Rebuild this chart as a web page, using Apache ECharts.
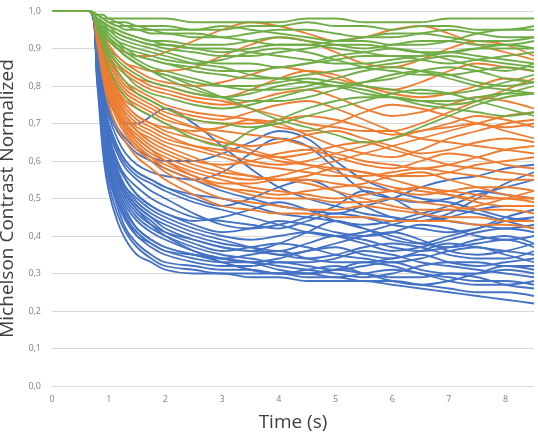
<!DOCTYPE html>
<html>
<head>
<meta charset="utf-8">
<script src="https://cdn.jsdelivr.net/npm/echarts@6/dist/echarts.min.js"></script>
<style>html,body{margin:0;padding:0;background:#fff}#c{width:538px;height:434px}</style>
</head>
<body>
<div id="c"></div>
<script>
// Time samples (s). Every trace sits at 1,0 for t = 0 and 0.65.
const timeStart = [0, 0.65];
const startValues = [1.0, 1.0];
const timeSamples = [0.8, 0.9, 1.0, 1.15, 1.3, 1.5, 1.75, 2, 2.5, 3, 3.5, 4, 4.5, 5, 5.5, 6, 6.5, 7, 7.5, 8, 8.5];
const yTicks = [0, 0.1, 0.2, 0.3, 0.4, 0.5, 0.6, 0.7, 0.8, 0.9, 1.0];
const xTicks = [0, 1, 2, 3, 4, 5, 6, 7, 8];

const blueTraces = [
  [0.80,0.62,0.52,0.44,0.39,0.35,0.33,0.31,0.30,0.30,0.29,0.29,0.28,0.28,0.28,0.27,0.26,0.25,0.24,0.23,0.22],
  [0.81,0.64,0.54,0.46,0.41,0.37,0.34,0.32,0.31,0.30,0.30,0.30,0.29,0.29,0.28,0.28,0.27,0.26,0.25,0.25,0.24],
  [0.82,0.66,0.56,0.48,0.42,0.38,0.35,0.33,0.32,0.31,0.31,0.30,0.30,0.31,0.30,0.29,0.29,0.30,0.29,0.27,0.26],
  [0.83,0.68,0.58,0.50,0.45,0.40,0.37,0.35,0.33,0.32,0.32,0.33,0.32,0.31,0.32,0.33,0.31,0.30,0.30,0.31,0.30],
  [0.82,0.67,0.57,0.49,0.44,0.40,0.38,0.36,0.35,0.34,0.33,0.31,0.30,0.31,0.33,0.32,0.30,0.29,0.28,0.28,0.27],
  [0.84,0.70,0.60,0.52,0.47,0.42,0.39,0.37,0.35,0.34,0.35,0.36,0.34,0.33,0.33,0.34,0.35,0.33,0.32,0.33,0.34],
  [0.85,0.71,0.62,0.54,0.49,0.45,0.42,0.40,0.37,0.35,0.34,0.33,0.33,0.34,0.36,0.35,0.33,0.32,0.31,0.30,0.29],
  [0.84,0.70,0.61,0.55,0.51,0.47,0.44,0.41,0.38,0.36,0.37,0.38,0.37,0.35,0.34,0.33,0.34,0.36,0.37,0.35,0.33],
  [0.85,0.72,0.63,0.56,0.52,0.48,0.45,0.43,0.40,0.38,0.37,0.36,0.38,0.40,0.39,0.37,0.36,0.37,0.39,0.40,0.38],
  [0.86,0.73,0.64,0.57,0.53,0.50,0.47,0.45,0.42,0.40,0.39,0.40,0.41,0.40,0.38,0.36,0.37,0.39,0.41,0.42,0.41],
  [0.86,0.74,0.66,0.59,0.55,0.51,0.48,0.46,0.43,0.41,0.42,0.44,0.43,0.41,0.40,0.41,0.43,0.42,0.40,0.39,0.40],
  [0.87,0.75,0.67,0.60,0.56,0.53,0.50,0.48,0.45,0.44,0.43,0.42,0.44,0.46,0.45,0.43,0.42,0.41,0.42,0.44,0.45],
  [0.87,0.76,0.68,0.62,0.58,0.55,0.52,0.50,0.46,0.43,0.42,0.43,0.45,0.48,0.52,0.50,0.46,0.44,0.43,0.42,0.43],
  [0.88,0.77,0.69,0.63,0.59,0.56,0.54,0.52,0.49,0.47,0.45,0.43,0.41,0.40,0.41,0.43,0.45,0.47,0.46,0.44,0.42],
  [0.88,0.78,0.70,0.64,0.60,0.57,0.55,0.53,0.50,0.48,0.50,0.53,0.55,0.52,0.48,0.45,0.44,0.46,0.50,0.54,0.57],
  [0.89,0.79,0.72,0.66,0.62,0.59,0.57,0.56,0.55,0.57,0.62,0.66,0.64,0.58,0.52,0.50,0.49,0.50,0.52,0.51,0.50],
  [0.89,0.80,0.73,0.68,0.65,0.62,0.60,0.58,0.55,0.52,0.50,0.48,0.47,0.46,0.48,0.50,0.53,0.55,0.56,0.58,0.59],
  [0.90,0.82,0.76,0.72,0.70,0.70,0.72,0.74,0.70,0.64,0.58,0.53,0.50,0.48,0.46,0.45,0.44,0.45,0.47,0.48,0.48],
  [0.86,0.74,0.65,0.58,0.53,0.49,0.46,0.44,0.41,0.39,0.37,0.35,0.36,0.38,0.40,0.41,0.39,0.36,0.35,0.36,0.38],
  [0.83,0.69,0.59,0.51,0.46,0.42,0.39,0.37,0.35,0.33,0.31,0.30,0.31,0.32,0.30,0.28,0.27,0.28,0.30,0.32,0.31],
  [0.84,0.69,0.60,0.53,0.48,0.44,0.41,0.39,0.36,0.34,0.33,0.34,0.36,0.37,0.35,0.34,0.36,0.38,0.37,0.36,0.35],
  [0.85,0.72,0.63,0.56,0.51,0.47,0.43,0.40,0.36,0.33,0.31,0.30,0.30,0.29,0.30,0.31,0.30,0.28,0.27,0.27,0.28],
  [0.87,0.75,0.66,0.60,0.55,0.51,0.48,0.46,0.44,0.45,0.47,0.49,0.47,0.44,0.42,0.40,0.38,0.37,0.38,0.39,0.37],
  [0.88,0.77,0.70,0.64,0.60,0.57,0.55,0.53,0.51,0.50,0.48,0.46,0.45,0.44,0.43,0.44,0.46,0.48,0.51,0.53,0.55],
  [0.86,0.73,0.64,0.57,0.52,0.48,0.45,0.42,0.39,0.37,0.36,0.38,0.41,0.44,0.42,0.39,0.38,0.40,0.42,0.45,0.47],
  [0.83,0.68,0.58,0.50,0.45,0.41,0.38,0.36,0.34,0.33,0.33,0.32,0.31,0.30,0.29,0.30,0.32,0.33,0.33,0.32,0.32],
  [0.85,0.71,0.62,0.55,0.50,0.46,0.43,0.41,0.39,0.37,0.36,0.35,0.34,0.35,0.37,0.38,0.37,0.35,0.34,0.34,0.36],
  [0.89,0.80,0.74,0.69,0.66,0.63,0.61,0.60,0.60,0.62,0.65,0.68,0.66,0.60,0.55,0.52,0.50,0.49,0.47,0.45,0.44]
];

const orangeTraces = [
  [0.91,0.82,0.75,0.69,0.65,0.61,0.58,0.55,0.51,0.48,0.47,0.46,0.46,0.45,0.45,0.44,0.44,0.44,0.43,0.43,0.42],
  [0.92,0.84,0.77,0.71,0.67,0.63,0.60,0.57,0.53,0.50,0.49,0.48,0.47,0.47,0.48,0.47,0.46,0.45,0.45,0.44,0.44],
  [0.92,0.85,0.78,0.72,0.68,0.64,0.61,0.58,0.55,0.53,0.51,0.50,0.50,0.49,0.49,0.50,0.49,0.48,0.47,0.47,0.46],
  [0.93,0.85,0.79,0.73,0.69,0.65,0.62,0.60,0.57,0.55,0.53,0.52,0.51,0.50,0.51,0.52,0.53,0.51,0.49,0.48,0.48],
  [0.93,0.86,0.80,0.74,0.70,0.67,0.64,0.62,0.59,0.57,0.56,0.55,0.55,0.54,0.53,0.52,0.51,0.52,0.53,0.53,0.52],
  [0.93,0.86,0.80,0.75,0.71,0.68,0.66,0.64,0.61,0.58,0.56,0.55,0.56,0.58,0.57,0.55,0.53,0.52,0.51,0.50,0.50],
  [0.94,0.87,0.81,0.76,0.72,0.69,0.67,0.65,0.63,0.61,0.59,0.58,0.57,0.56,0.56,0.57,0.58,0.57,0.56,0.55,0.55],
  [0.94,0.87,0.82,0.77,0.73,0.70,0.68,0.66,0.64,0.63,0.62,0.60,0.59,0.58,0.57,0.56,0.56,0.57,0.59,0.60,0.61],
  [0.94,0.88,0.82,0.78,0.75,0.72,0.70,0.68,0.66,0.64,0.62,0.61,0.62,0.64,0.65,0.63,0.61,0.59,0.58,0.57,0.56],
  [0.95,0.88,0.83,0.79,0.76,0.74,0.72,0.70,0.67,0.65,0.64,0.65,0.67,0.68,0.66,0.64,0.62,0.63,0.65,0.66,0.65],
  [0.95,0.89,0.84,0.80,0.77,0.75,0.73,0.71,0.69,0.68,0.67,0.66,0.64,0.62,0.60,0.59,0.58,0.59,0.61,0.63,0.64],
  [0.95,0.90,0.86,0.82,0.79,0.77,0.75,0.73,0.71,0.70,0.70,0.71,0.72,0.71,0.69,0.67,0.68,0.70,0.72,0.71,0.69],
  [0.96,0.91,0.87,0.84,0.81,0.79,0.77,0.75,0.73,0.72,0.71,0.69,0.68,0.70,0.73,0.75,0.74,0.72,0.70,0.69,0.70],
  [0.96,0.92,0.88,0.85,0.83,0.81,0.79,0.78,0.76,0.75,0.76,0.78,0.79,0.77,0.74,0.72,0.73,0.75,0.77,0.76,0.74],
  [0.96,0.92,0.89,0.86,0.84,0.82,0.81,0.80,0.78,0.77,0.79,0.82,0.84,0.83,0.80,0.78,0.77,0.78,0.80,0.82,0.81],
  [0.97,0.93,0.90,0.88,0.86,0.85,0.84,0.84,0.85,0.88,0.91,0.93,0.92,0.89,0.86,0.85,0.87,0.90,0.92,0.91,0.88],
  [0.97,0.94,0.92,0.90,0.89,0.88,0.88,0.89,0.92,0.95,0.97,0.96,0.94,0.92,0.93,0.95,0.96,0.94,0.91,0.89,0.87],
  [0.93,0.86,0.79,0.73,0.69,0.66,0.63,0.61,0.58,0.56,0.55,0.56,0.58,0.60,0.62,0.64,0.66,0.68,0.70,0.72,0.73],
  [0.92,0.85,0.78,0.72,0.68,0.64,0.61,0.59,0.56,0.54,0.54,0.55,0.54,0.52,0.50,0.48,0.47,0.47,0.48,0.50,0.52],
  [0.94,0.88,0.83,0.78,0.74,0.71,0.69,0.67,0.64,0.62,0.60,0.59,0.60,0.62,0.64,0.66,0.68,0.69,0.70,0.68,0.66],
  [0.95,0.90,0.85,0.81,0.78,0.76,0.74,0.72,0.69,0.66,0.63,0.61,0.59,0.57,0.55,0.53,0.52,0.51,0.50,0.50,0.49],
  [0.96,0.91,0.87,0.83,0.80,0.78,0.76,0.74,0.72,0.71,0.73,0.75,0.76,0.74,0.71,0.68,0.66,0.65,0.64,0.63,0.62],
  [0.97,0.93,0.89,0.86,0.84,0.82,0.80,0.79,0.77,0.76,0.74,0.72,0.70,0.69,0.68,0.68,0.70,0.73,0.76,0.79,0.82],
  [0.97,0.94,0.91,0.88,0.86,0.84,0.82,0.81,0.80,0.81,0.83,0.85,0.84,0.82,0.80,0.79,0.81,0.84,0.86,0.85,0.84],
  [0.94,0.87,0.81,0.76,0.72,0.68,0.65,0.63,0.60,0.59,0.60,0.62,0.63,0.61,0.59,0.58,0.60,0.62,0.61,0.59,0.58],
  [0.93,0.86,0.80,0.74,0.70,0.66,0.63,0.60,0.56,0.53,0.52,0.51,0.52,0.53,0.54,0.56,0.57,0.55,0.53,0.51,0.50],
  [0.95,0.89,0.84,0.79,0.75,0.72,0.70,0.69,0.68,0.69,0.71,0.70,0.67,0.64,0.62,0.61,0.63,0.66,0.68,0.70,0.71]
];

const greenTraces = [
  [0.99,0.99,0.98,0.98,0.98,0.98,0.98,0.98,0.97,0.97,0.97,0.97,0.98,0.98,0.97,0.97,0.97,0.98,0.98,0.98,0.98],
  [0.99,0.98,0.98,0.97,0.97,0.96,0.96,0.96,0.95,0.95,0.96,0.96,0.97,0.96,0.96,0.95,0.96,0.96,0.95,0.95,0.96],
  [0.99,0.98,0.97,0.96,0.95,0.95,0.94,0.94,0.93,0.93,0.94,0.95,0.95,0.94,0.93,0.93,0.94,0.95,0.94,0.93,0.93],
  [0.98,0.97,0.96,0.95,0.94,0.93,0.92,0.92,0.91,0.91,0.92,0.93,0.92,0.91,0.90,0.91,0.92,0.92,0.91,0.91,0.92],
  [0.98,0.97,0.95,0.94,0.93,0.92,0.91,0.90,0.89,0.88,0.88,0.89,0.90,0.91,0.91,0.90,0.89,0.89,0.90,0.91,0.90],
  [0.98,0.96,0.95,0.93,0.92,0.91,0.90,0.89,0.87,0.86,0.86,0.85,0.86,0.87,0.88,0.88,0.87,0.86,0.87,0.88,0.89],
  [0.98,0.96,0.94,0.92,0.91,0.90,0.89,0.88,0.86,0.85,0.83,0.82,0.83,0.84,0.85,0.86,0.87,0.88,0.87,0.86,0.85],
  [0.97,0.95,0.93,0.91,0.90,0.88,0.87,0.86,0.84,0.83,0.82,0.82,0.81,0.80,0.81,0.82,0.84,0.85,0.84,0.82,0.81],
  [0.97,0.95,0.93,0.91,0.89,0.87,0.85,0.84,0.82,0.80,0.79,0.79,0.80,0.82,0.84,0.85,0.84,0.82,0.80,0.79,0.78],
  [0.97,0.94,0.92,0.90,0.88,0.86,0.84,0.83,0.81,0.80,0.80,0.81,0.82,0.81,0.80,0.79,0.78,0.78,0.79,0.81,0.83],
  [0.96,0.93,0.90,0.87,0.85,0.83,0.81,0.80,0.78,0.77,0.78,0.80,0.81,0.80,0.78,0.77,0.76,0.76,0.77,0.78,0.78],
  [0.96,0.92,0.88,0.84,0.81,0.78,0.76,0.74,0.71,0.70,0.69,0.70,0.72,0.74,0.76,0.78,0.79,0.78,0.76,0.74,0.72],
  [0.95,0.90,0.85,0.80,0.77,0.74,0.72,0.70,0.66,0.64,0.68,0.71,0.74,0.76,0.77,0.77,0.76,0.75,0.76,0.78,0.80],
  [0.97,0.94,0.92,0.90,0.88,0.86,0.84,0.83,0.80,0.77,0.74,0.71,0.69,0.67,0.65,0.66,0.69,0.72,0.75,0.77,0.78],
  [0.98,0.97,0.96,0.95,0.94,0.93,0.92,0.91,0.90,0.90,0.89,0.88,0.87,0.86,0.86,0.87,0.88,0.89,0.88,0.87,0.86],
  [0.99,0.98,0.97,0.96,0.96,0.95,0.95,0.94,0.94,0.93,0.92,0.91,0.91,0.92,0.93,0.94,0.94,0.93,0.92,0.92,0.93],
  [0.98,0.96,0.94,0.92,0.90,0.89,0.88,0.87,0.86,0.87,0.89,0.90,0.89,0.87,0.85,0.84,0.83,0.83,0.84,0.85,0.84],
  [0.97,0.95,0.93,0.90,0.88,0.86,0.84,0.82,0.79,0.77,0.76,0.76,0.77,0.79,0.81,0.83,0.84,0.83,0.81,0.80,0.81],
  [0.98,0.97,0.96,0.94,0.93,0.92,0.91,0.91,0.90,0.89,0.90,0.91,0.91,0.90,0.89,0.88,0.88,0.89,0.90,0.90,0.90],
  [0.99,0.98,0.97,0.97,0.96,0.96,0.95,0.95,0.95,0.96,0.95,0.94,0.93,0.92,0.92,0.91,0.91,0.92,0.94,0.95,0.95],
  [0.96,0.93,0.89,0.86,0.83,0.80,0.78,0.77,0.75,0.74,0.75,0.77,0.79,0.80,0.79,0.77,0.75,0.74,0.73,0.72,0.73],
  [0.97,0.95,0.93,0.91,0.89,0.88,0.87,0.86,0.85,0.84,0.84,0.85,0.86,0.88,0.89,0.90,0.89,0.87,0.85,0.84,0.86]
];

const groups = [
  { traces: blueTraces, color: '#4472C4' },
  { traces: orangeTraces, color: '#ED7D31' },
  { traces: greenTraces, color: '#70AD47' }
];

const allTimes = timeStart.concat(timeSamples);
const series = [];
groups.forEach(g => {
  g.traces.forEach(vals => {
    const v = startValues.concat(vals);
    series.push({
      type: 'line',
      data: allTimes.map((t, i) => [t, v[i]]),
      showSymbol: false,
      smooth: 0.35,
      lineStyle: { color: g.color, width: 1.8 },
      itemStyle: { color: g.color },
      silent: true
    });
  });
});

const chart = echarts.init(document.getElementById('c'), null, { renderer: 'canvas' });
chart.setOption({
  animation: false,
  backgroundColor: '#ffffff',
  grid: { left: 52, right: 4, top: 11, bottom: 48, containLabel: false, outerBoundsMode: 'none' },
  xAxis: {
    type: 'value', min: 0, max: 8.5, interval: 1,
    name: 'Time (s)', nameLocation: 'middle', nameGap: 27,
    nameTextStyle: { fontSize: 19, color: '#404040', fontFamily: 'Open Sans' },
    axisLine: { show: false }, axisTick: { show: false },
    splitLine: { show: false },
    axisLabel: {
      fontSize: 9, color: '#808080', margin: 9, fontFamily: 'Open Sans',
      formatter: v => (xTicks.indexOf(v) >= 0 ? String(v) : '')
    }
  },
  yAxis: {
    type: 'value', min: 0, max: 1, interval: 0.1,
    name: 'Michelson Contrast Normalized', nameLocation: 'middle', nameGap: 28, nameRotate: 90,
    nameTextStyle: { fontSize: 19, color: '#404040', fontFamily: 'Open Sans' },
    axisLine: { show: false }, axisTick: { show: false },
    splitLine: { lineStyle: { color: '#d9d9d9', width: 1 } },
    axisLabel: {
      fontSize: 9, color: '#808080', margin: 11, fontFamily: 'Open Sans',
      formatter: v => {
        const t = yTicks.find(k => Math.abs(k - v) < 1e-6);
        return t === undefined ? '' : t.toFixed(1).replace('.', ',');
      }
    }
  },
  series: series
});
</script>
</body>
</html>
